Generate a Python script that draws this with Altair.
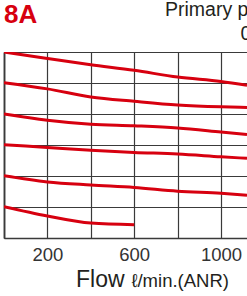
import altair as alt
import pandas as pd

flow = [0, 200, 400, 600, 800, 1000, 1120]
p_top = [6.00, 5.79, 5.59, 5.41, 5.19, 5.05, 4.93]
p_2 = [5.01, 4.81, 4.55, 4.41, 4.29, 4.23, 4.21]
p_3 = [4.00, 3.80, 3.67, 3.62, 3.55, 3.42, 3.34]
p_4 = [3.01, 2.92, 2.83, 2.76, 2.71, 2.62, 2.57]
p_5 = [2.01, 1.81, 1.71, 1.63, 1.51, 1.44, 1.38]
flow_6 = [0, 200, 400, 600]
p_6 = [1.01, 0.71, 0.48, 0.43]

rows = []
for name, ys in [("a", p_top), ("b", p_2), ("c", p_3), ("d", p_4), ("e", p_5)]:
    for x, y in zip(flow, ys):
        rows.append({"s": name, "flow": x, "p": y})
for x, y in zip(flow_6, p_6):
    rows.append({"s": "f", "flow": x, "p": y})
df = pd.DataFrame(rows)

x_ticks = [0, 200, 400, 600, 800, 1000]
y_ticks = [0, 1, 2, 3, 4, 5, 6]

RED = "#d7000f"
GRID = "#3a3a3a"
FONT = "Liberation Sans"

lines = alt.Chart(df).mark_line(
    color=RED, strokeWidth=3, interpolate="monotone", clip=True
).encode(
    x=alt.X("flow:Q", scale=alt.Scale(domain=[0, 1120], nice=False),
            axis=alt.Axis(values=x_ticks, grid=True, gridColor=GRID, gridWidth=1.2,
                          gridOpacity=1, ticks=False, labelPadding=7, format="d",
                          labelExpr="datum.value % 400 == 200 ? datum.label : ''",
                          labelFontSize=18.5, labelFont=FONT, labelColor="#333333",
                          domainColor=GRID, domainWidth=1.5, title=None,
                          labelFlush=False)),
    y=alt.Y("p:Q", scale=alt.Scale(domain=[0, 6], nice=False),
            axis=alt.Axis(values=y_ticks, grid=True, gridColor=GRID, gridWidth=1.2,
                          gridOpacity=1, ticks=False, labels=False,
                          domainColor=GRID, domainWidth=1.8, title=None)),
    detail="s:N",
)

def label(text, x, y, size, color="#231f20", weight="normal"):
    return alt.Chart(pd.DataFrame({"t": [text]})).mark_text(
        align="left", baseline="alphabetic", fontSize=size, font=FONT,
        fontWeight=weight, color=color
    ).encode(x=alt.value(x), y=alt.value(y), text="t:N")

chart = alt.layer(
    lines,
    label("8A", 0, -29, 26, RED, "bold"),
    label("Primary pressure", 161, -36, 19.5),
    label("0.7MPa", 236.5, -12.5, 19.5),
    label("Flow", 72, 234.5, 23),
    label("ℓ/min.(ANR)", 127.5, 234.5, 18.5),
).properties(
    width=243, height=186,
    autosize=alt.AutoSizeParams(type="none"),
    padding={"left": 4, "top": 52, "right": 0, "bottom": 58},
).configure_view(stroke=None).configure(background="white")

chart.save("out.html", embed_options={"renderer": "svg", "actions": False})
